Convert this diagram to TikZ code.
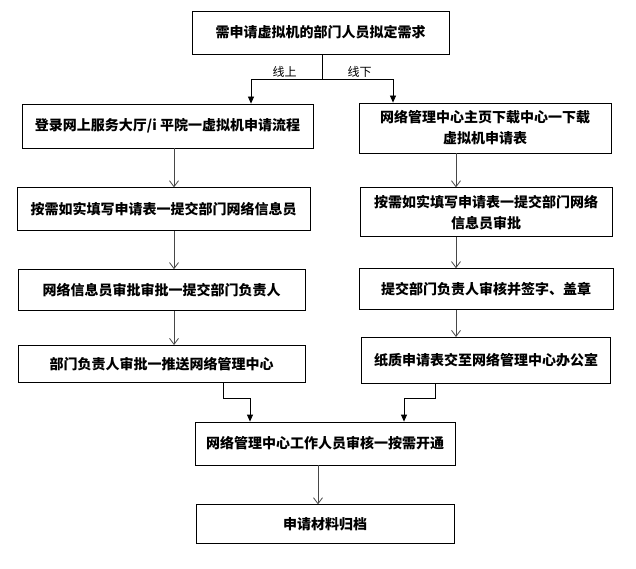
\documentclass[tikz,border=0pt]{standalone}
\usepackage{fontspec}
\setmainfont{Noto Sans CJK SC}
\usetikzlibrary{arrows.meta,positioning}
\tikzset{
    stepbox/.style={
        rectangle,
        draw=black,
        line width=0.8pt,
        font=\bfseries\fontsize{14}{21}\selectfont,
        align=center,
        inner sep=0pt,
    },
    flow/.style={
        draw=black!72,
        line width=0.8pt,
        -{Straight Barb[length=6pt,width=9pt]},
    },
    branch/.style={
        draw=black,
        line width=0.8pt,
        -{Triangle[length=7pt,width=6pt]},
    },
    wayname/.style={
        font=\fontsize{12}{14}\selectfont,
        inner sep=1pt,
    }
}

\begin{document}
\begin{tikzpicture}[x=1pt,y=1pt]
    \useasboundingbox (0,0) rectangle (636,-569);
    % start
    \node [stepbox,minimum width=257pt,minimum height=43pt] (T) at (320.5,-32.5)
        {需申请虚拟机的部门人员拟定需求};
    % online way
    \node [stepbox,minimum width=291pt,minimum height=44pt] (L1) at (167.5,-126)
        {登录网上服务大厅/i 平院一虚拟机申请流程};
    \node [stepbox,minimum width=293pt,minimum height=43pt,below=39pt of L1,xshift=-4pt] (L2)
        {按需如实填写申请表一提交部门网络信息员};
    \node [stepbox,minimum width=287pt,minimum height=41pt,below=38pt of L2,xshift=-2pt] (L3)
        {网络信息员审批审批一提交部门负责人};
    \node [stepbox,minimum width=287pt,minimum height=37pt,below=34pt of L3] (L4)
        {部门负责人审批一推送网络管理中心};
    % offline way
    \node [stepbox,minimum width=252pt,minimum height=50pt] (R1) at (485,-128)
        {网络管理中心主页下载中心一下载\\虚拟机申请表};
    \node [stepbox,minimum width=252pt,minimum height=49pt,below=34pt of R1,xshift=1pt] (R2)
        {按需如实填写申请表一提交部门网络\\信息员审批};
    \node [stepbox,minimum width=254pt,minimum height=41pt,below=31pt of R2] (R3)
        {提交部门负责人审核并签字、盖章};
    \node [stepbox,minimum width=249pt,minimum height=46pt,below=27pt of R3] (R4)
        {纸质申请表交至网络管理中心办公室};
    % end
    \node [stepbox,minimum width=260pt,minimum height=43pt] (B1) at (325,-443.5)
        {网络管理中心工作人员审核一按需开通};
    \node [stepbox,minimum width=258pt,minimum height=39pt,below=39pt of B1] (B2)
        {申请材料归档};

    % split
    \coordinate (split) at (322,-79);
    \coordinate (lt) at (251,-79);
    \coordinate (rt) at (393,-79);
    \draw [line width=0.8pt] (T.south -| split) -- (split);
    \draw [branch] (split) -- node[wayname,above,xshift=-2pt]{线上} (lt) -- (L1.north -| lt);
    \draw [branch] (split) -- node[wayname,above,xshift=2pt]{线下} (rt) -- (R1.north -| rt);

    % columns
    \coordinate (lx) at (174,0);
    \coordinate (rx) at (456,0);
    \draw [flow] (L1.south -| lx) -- (L2.north -| lx);
    \draw [flow] (L2.south -| lx) -- (L3.north -| lx);
    \draw [flow] (L3.south -| lx) -- (L4.north -| lx);
    \draw [flow] (R1.south -| rx) -- (R2.north -| rx);
    \draw [flow] (R2.south -| rx) -- (R3.north -| rx);
    \draw [flow] (R3.south -| rx) -- (R4.north -| rx);

    % join
    \coordinate (lj) at (223,-398);
    \coordinate (lk) at (250,-398);
    \coordinate (rj) at (435,-398);
    \coordinate (rk) at (404,-398);
    \draw [branch] (L4.south -| lj) -- (lj) -- (lk) -- (B1.north -| lk);
    \draw [branch] (R4.south -| rj) -- (rj) -- (rk) -- (B1.north -| rk);
    \coordinate (bx) at (318,0);
    \draw [flow] (B1.south -| bx) -- (B2.north -| bx);
\end{tikzpicture}
\end{document}
